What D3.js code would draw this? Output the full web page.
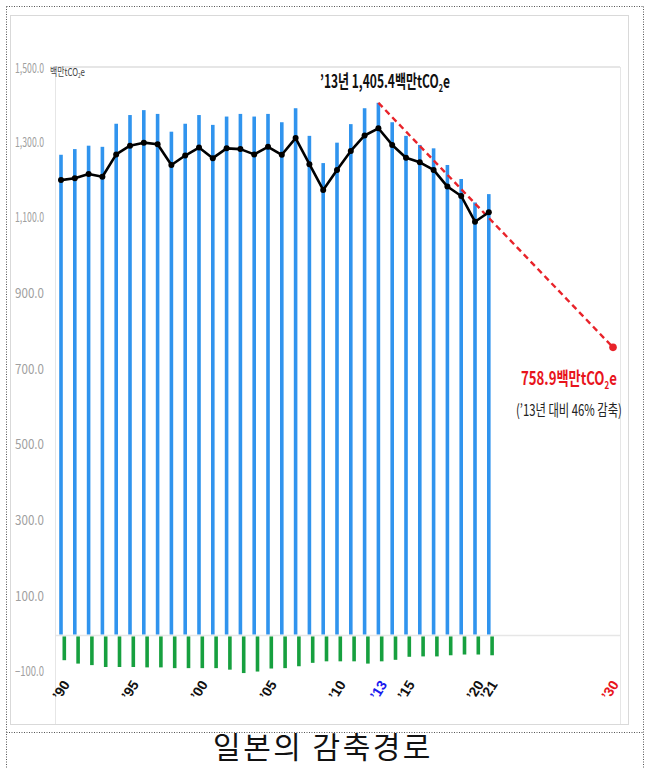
<!DOCTYPE html>
<html><head><meta charset="utf-8">
<script src="https://cdn.jsdelivr.net/npm/d3@7"></script>
<style>html,body{margin:0;padding:0;background:#fff;}svg{display:block;}</style>
</head><body>
<svg id="c" width="648" height="768"></svg>
<script>
const years = [1990,1991,1992,1993,1994,1995,1996,1997,1998,1999,2000,2001,2002,2003,2004,2005,2006,2007,2008,2009,2010,2011,2012,2013,2014,2015,2016,2017,2018,2019,2020,2021];
const grossEmissions = [1268,1283,1292,1289,1350,1373,1386,1376,1329,1350,1373,1347,1369,1376,1369,1376,1354,1391,1318,1246,1300,1349,1391,1405.4,1354,1318,1294,1285,1241,1204,1142,1164];
const netEmissions = [1201,1206,1217,1210,1269,1292,1300,1296,1241,1266,1287,1259,1285,1283,1269,1289,1268,1312,1243,1175,1228,1278,1319,1338,1294,1260,1248,1228,1184,1159,1091,1116];
const sinks = [-68,-77,-81,-86,-86,-86,-87,-87,-89,-89,-89,-89,-93,-102,-98,-90,-89,-84,-75,-71,-71,-71,-77,-71,-67,-59,-58,-58,-55,-53,-53,-55];
const yTicks = [1500,1300,1100,900,700,500,300,100,-100];
const xTickYears = [1990,1995,2000,2005,2010,2013,2015,2020,2021,2030];
const xTickLabels = ["’90","’95","’00","’05","’10","’13","’15","’20","’21","’30"];
const baseYear = 2013, baseValue = 1405.4;
const targetYear = 2030, targetValue = 758.9;

const svg = d3.select("#c");
const x = d3.scaleLinear().domain([1990, 2030]).range([61, 613]);
const y = d3.scaleLinear().domain([-100, 1500]).range([672.3, 67]);

const KR = "'Noto Sans CJK KR','Noto Sans',sans-serif";

// frames
svg.append("rect").attr("x",10.5).attr("y",15.5).attr("width",618).attr("height",709)
  .attr("fill","none").attr("stroke","#d9d9d9");
svg.append("line").attr("x1",55.5).attr("x2",55.5).attr("y1",y(1500)).attr("y2",724).attr("stroke","#e6e6e6");
svg.append("line").attr("x1",620.5).attr("x2",620.5).attr("y1",y(1500)).attr("y2",724).attr("stroke","#e6e6e6");
svg.append("line").attr("x1",55).attr("x2",620).attr("y1",y(1500)).attr("y2",y(1500)).attr("stroke","#dedede").attr("stroke-width",1.5);
svg.append("line").attr("x1",55).attr("x2",620).attr("y1",y(0)+1).attr("y2",y(0)+1).attr("stroke","#e6e6e6").attr("stroke-width",1.5);

// dotted outer border
const dot = {stroke:"#555", "stroke-dasharray":"1,1.5", "stroke-width":1};
function dl(x1,y1,x2,y2){const l=svg.append("line").attr("x1",x1).attr("y1",y1).attr("x2",x2).attr("y2",y2).attr("fill","none");for(const k in dot)l.attr(k,dot[k]);}
dl(6.5,6.5,643.5,6.5); dl(6.5,6.5,6.5,768); dl(643.5,6.5,643.5,768); dl(6.5,732.5,643.5,732.5);

function fit(gx, gy, txt, width, attrs, anchor){
  const g = svg.append("g").attr("transform",`translate(${gx},${gy})`);
  const t = g.append("text").attr("text-anchor", anchor||"start");
  for(const k in attrs) t.attr(k, attrs[k]);
  txt(t);
  const bb = t.node().getBBox();
  t.attr("transform",`scale(${width/bb.width},1)`);
  return g;
}
function co2(t, pre, size){
  t.append("tspan").text(pre + "tCO");
  t.append("tspan").attr("font-size", size*0.6).attr("dy", size*0.22).text("2");
  t.append("tspan").attr("dy", -size*0.22).text("e");
}

// y tick labels
yTicks.forEach(v=>{
  fit(44, y(v)+4+ (v===1500?2:0), t=>t.text(d3.format(",.1f")(v)), 29,
    {"font-family":KR,"font-size":13,"fill":"#a0a0a0"}, "end");
});
// unit label
fit(50, 76, t=>co2(t,"백만",11), 35, {"font-family":KR,"font-size":11,"fill":"#444"});

// blue bars
svg.append("g").selectAll("rect").data(years).join("rect")
  .attr("x", (d)=>x(d)-1.8).attr("width",3.6)
  .attr("y", (d,i)=>y(grossEmissions[i])).attr("height",(d,i)=>y(0)-y(grossEmissions[i]))
  .attr("fill","#3094ee");
// green bars
svg.append("g").selectAll("rect").data(years).join("rect")
  .attr("x", (d)=>x(d)+1.5).attr("width",3.6)
  .attr("y", y(0)+2).attr("height",(d,i)=>y(sinks[i])-y(0)-2)
  .attr("fill","#17a03f");

// red dashed projection
svg.append("line").attr("x1",x(baseYear)).attr("y1",y(baseValue)).attr("x2",x(targetYear)).attr("y2",y(targetValue))
  .attr("stroke","#e8232a").attr("stroke-width",2.4).attr("stroke-dasharray","6,4");
svg.append("circle").attr("cx",x(targetYear)).attr("cy",y(targetValue)).attr("r",3.8).attr("fill","#e8232a");

// net line
const line = d3.line().x((d,i)=>x(years[i])).y(d=>y(d));
svg.append("path").attr("d",line(netEmissions)).attr("fill","none").attr("stroke","#000").attr("stroke-width",2.6).attr("stroke-linejoin","round");
svg.append("g").selectAll("circle").data(netEmissions).join("circle")
  .attr("cx",(d,i)=>x(years[i])).attr("cy",d=>y(d)).attr("r",3).attr("fill","#000");

// annotations
fit(320, 88, t=>co2(t,"’13년 1,405.4백만",18), 130, {"font-family":KR,"font-size":18,"font-weight":700,"fill":"#111"});
fit(521, 385, t=>co2(t,"758.9백만",18), 96, {"font-family":KR,"font-size":18,"font-weight":700,"fill":"#e8141c"});
fit(516, 416, t=>t.text("(’13년 대비 46% 감축)"), 106, {"font-family":KR,"font-size":16,"fill":"#222"});

// x tick labels
xTickYears.forEach((yr,i)=>{
  const col = yr===2013 ? "#1a1aee" : (yr===2030 ? "#e8141c" : "#111");
  svg.append("text").attr("transform",`translate(${x(yr)-(yr===2030?3:0)},${690}) rotate(-58)`)
    .attr("text-anchor","middle").attr("dy","0.35em")
    .attr("font-family","'Liberation Sans',Arial,sans-serif").attr("font-weight",700).attr("font-size",14)
    .attr("fill",col).text(xTickLabels[i]);
});

// title
svg.append("text").attr("x",323).attr("y",758).attr("text-anchor","middle")
  .attr("font-family",KR).attr("font-size",30).attr("letter-spacing",2.5).attr("fill","#111").text("일본의 감축경로");
</script>
</body></html>
